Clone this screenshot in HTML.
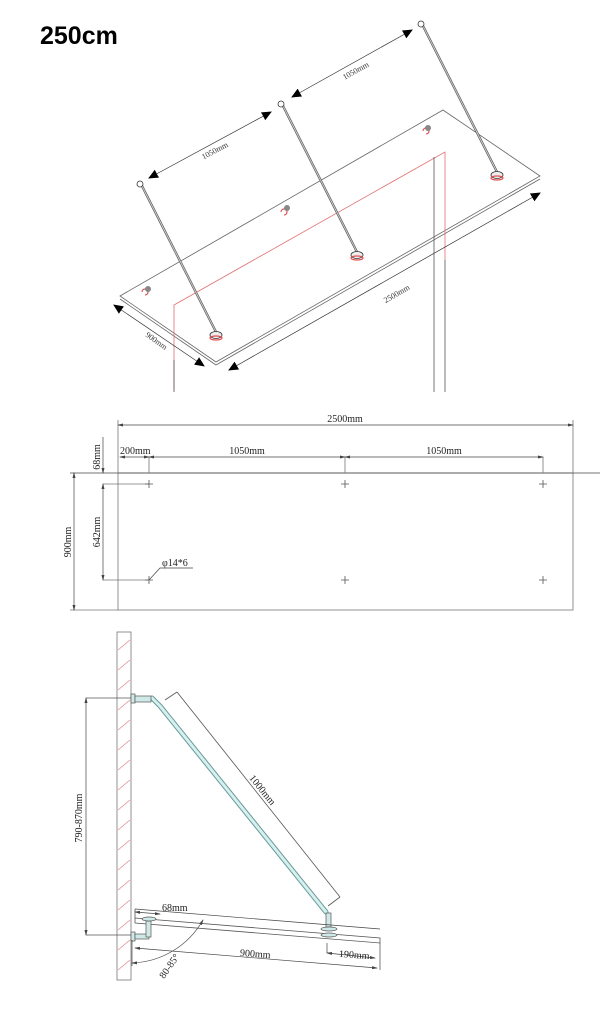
<!DOCTYPE html>
<html><head><meta charset="utf-8"><style>
html,body{margin:0;padding:0;background:#fff;}
svg{display:block;font-family:"Liberation Serif",serif;}
</style></head><body>
<svg width="611" height="1021" viewBox="0 0 611 1021" xmlns="http://www.w3.org/2000/svg">
<defs>
<marker id="a" markerWidth="10" markerHeight="10" refX="9" refY="5" orient="auto-start-reverse" markerUnits="userSpaceOnUse"><path d="M0,0.5 L10,5 L0,9.5 z" fill="#000"/></marker>
<marker id="s" markerWidth="6" markerHeight="6" refX="5" refY="3" orient="auto-start-reverse" markerUnits="userSpaceOnUse"><path d="M0,1.5 L6,3 L0,4.5 z" fill="#444"/></marker>
</defs>
<text x="40" y="44" font-family="Liberation Sans,sans-serif" font-weight="bold" font-size="25">250cm</text>

<g stroke="#666" fill="none" stroke-width="0.8">
<path d="M120,296 L443,110 L540,176 L216,362 Z"/>
<path d="M120,299 L216,365 L540,179"/>
</g>
<path d="M174,390 L174,305 L445,152 L445,260" stroke="#e07070" fill="none" stroke-width="0.8"/>
<g stroke="#555" stroke-width="0.8">
<line x1="434" y1="157" x2="434" y2="392"/><line x1="445" y1="260" x2="445" y2="392"/>
<line x1="174" y1="360" x2="174" y2="392"/>
</g>
<g stroke="#666" stroke-width="2.4" fill="none">
<line x1="141" y1="184" x2="216" y2="332"/>
<line x1="282" y1="104" x2="357" y2="252"/>
<line x1="422" y1="24" x2="497" y2="172"/>
</g>
<g stroke="#ddd" stroke-width="0.8" fill="none">
<line x1="141" y1="184" x2="216" y2="332"/>
<line x1="282" y1="104" x2="357" y2="252"/>
<line x1="422" y1="24" x2="497" y2="172"/>
</g>
<g stroke="#333" fill="#fff" stroke-width="0.8">
<circle cx="140" cy="184" r="3"/><circle cx="281" cy="104" r="3"/><circle cx="421" cy="24" r="3"/>
<ellipse cx="216" cy="335" rx="6" ry="3.5" fill="#eee"/><ellipse cx="357" cy="255" rx="6" ry="3.5" fill="#eee"/><ellipse cx="497" cy="175" rx="6" ry="3.5" fill="#eee"/>
</g>
<g stroke="#e05050" fill="none" stroke-width="1.2">
<ellipse cx="216" cy="338" rx="6" ry="2"/><ellipse cx="357" cy="258" rx="6" ry="2"/><ellipse cx="497" cy="178" rx="6" ry="2"/>
<path d="M142,292 a3,3 0 1 1 3,3"/><path d="M281,212 a3,3 0 1 1 3,3"/><path d="M423,131 a3,3 0 1 1 3,3"/>
</g>
<g fill="#888"><circle cx="148" cy="289" r="3"/><circle cx="287" cy="208" r="3"/><circle cx="428" cy="128" r="3"/></g>
<g stroke="#333" stroke-width="0.7">
<line x1="149" y1="178" x2="271" y2="112" marker-start="url(#a)" marker-end="url(#a)"/>
<line x1="292" y1="97" x2="412" y2="30" marker-start="url(#a)" marker-end="url(#a)"/>
<line x1="229" y1="370" x2="540" y2="193" marker-start="url(#a)" marker-end="url(#a)"/>
<line x1="114" y1="305" x2="204" y2="366" marker-start="url(#a)" marker-end="url(#a)"/>
</g>
<g font-size="8" fill="#333">
<text transform="translate(216,153) rotate(-28)" text-anchor="middle">1050mm</text>
<text transform="translate(357,73) rotate(-29)" text-anchor="middle">1050mm</text>
<text transform="translate(398,296) rotate(-30)" text-anchor="middle">2500mm</text>
<text transform="translate(155,343) rotate(35)" text-anchor="middle">900mm</text>
</g>

<g stroke="#777" fill="none" stroke-width="0.8">
<rect x="118" y="473" width="455" height="137"/>
<line x1="70" y1="473" x2="600" y2="473" stroke="#444"/>
<line x1="118" y1="420" x2="118" y2="473"/><line x1="573" y1="420" x2="573" y2="473"/>
<line x1="149" y1="457" x2="149" y2="473"/><line x1="345" y1="457" x2="345" y2="473"/><line x1="543" y1="457" x2="543" y2="473"/>
<line x1="103" y1="484" x2="149" y2="484"/><line x1="103" y1="580" x2="149" y2="580"/>
<line x1="70" y1="610" x2="118" y2="610"/>
</g>
<g stroke="#444" stroke-width="0.7">
<line x1="118" y1="425" x2="573" y2="425" marker-start="url(#s)" marker-end="url(#s)"/>
<line x1="120" y1="457" x2="149" y2="457" marker-start="url(#s)" marker-end="url(#s)"/>
<line x1="149" y1="457" x2="345" y2="457" marker-start="url(#s)" marker-end="url(#s)"/>
<line x1="345" y1="457" x2="543" y2="457" marker-start="url(#s)" marker-end="url(#s)"/>
<line x1="103" y1="437" x2="103" y2="473" marker-end="url(#s)"/>
<line x1="103" y1="484" x2="103" y2="580" marker-start="url(#s)" marker-end="url(#s)"/>
<line x1="74" y1="473" x2="74" y2="610" marker-start="url(#s)" marker-end="url(#s)"/>
<polyline points="149,580 160,568 193,568" fill="none"/>
</g>
<g stroke="#555" stroke-width="0.8">
<path d="M145,484h8M149,480v8M341,484h8M345,480v8M539,484h8M543,480v8M145,580h8M149,576v8M341,580h8M345,576v8M539,580h8M543,576v8"/>
</g>
<g font-size="10" fill="#222">
<text x="345" y="422" text-anchor="middle">2500mm</text>
<text x="120" y="454">200mm</text>
<text x="247" y="454" text-anchor="middle">1050mm</text>
<text x="444" y="454" text-anchor="middle">1050mm</text>
<text transform="translate(100,457) rotate(-90)" text-anchor="middle">68mm</text>
<text transform="translate(100,532) rotate(-90)" text-anchor="middle">642mm</text>
<text transform="translate(71,542) rotate(-90)" text-anchor="middle">900mm</text>
<text x="162" y="566">φ14*6</text>
</g>

<rect x="117" y="632" width="14" height="348" fill="#fff" stroke="#777" stroke-width="0.8"/>
<g stroke="#e09090" stroke-width="0.8">
<path d="M118,650 l12,-10 M118,670 l12,-10 M118,690 l12,-10 M118,710 l12,-10 M118,730 l12,-10 M118,750 l12,-10 M118,770 l12,-10 M118,790 l12,-10 M118,810 l12,-10 M118,830 l12,-10 M118,850 l12,-10 M118,870 l12,-10 M118,890 l12,-10 M118,910 l12,-10 M118,930 l12,-10 M118,950 l12,-10 M118,970 l12,-10"/>
</g>
<g stroke="#555" fill="none" stroke-width="0.8">
<line x1="86" y1="698" x2="131" y2="698"/><line x1="86" y1="935" x2="131" y2="935"/>
<path d="M135,918 L380,938 L380,943 L135,923 Z" fill="#fff"/>
<line x1="135" y1="909" x2="135" y2="918"/>
<line x1="177" y1="692" x2="340" y2="897"/>
<line x1="165" y1="700" x2="177" y2="692"/><line x1="328" y1="906" x2="340" y2="897"/>
</g>
<path d="M152,698 L160,706 L326,912" stroke="#6a9a9a" stroke-width="5" stroke-linecap="round" stroke-linejoin="round" fill="none"/>
<path d="M152,698 L160,706 L326,912" stroke="#d6f0ef" stroke-width="3" stroke-linecap="round" stroke-linejoin="round" fill="none"/>
<g stroke="#555" fill="#cfe9e8" stroke-width="0.7">
<rect x="131" y="694" width="4" height="9"/><rect x="135" y="696" width="16" height="6"/>
<rect x="131" y="932" width="4" height="9"/><rect x="135" y="934" width="14" height="5"/><rect x="146" y="921" width="5" height="16"/>
<ellipse cx="149" cy="919" rx="7" ry="2"/>
<rect x="326" y="913" width="5" height="14"/>
<ellipse cx="329" cy="929" rx="8" ry="2"/><ellipse cx="329" cy="935" rx="8" ry="2"/>
</g>
<g stroke="#444" stroke-width="0.7" fill="none">
<line x1="86" y1="698" x2="86" y2="935" marker-start="url(#s)" marker-end="url(#s)"/>
<line x1="135" y1="909" x2="380" y2="929"/>
<line x1="135" y1="912" x2="160" y2="914" marker-start="url(#s)" marker-end="url(#s)"/>
<line x1="135" y1="948" x2="377" y2="968" marker-start="url(#s)" marker-end="url(#s)"/>
<line x1="327" y1="953" x2="375" y2="958" marker-start="url(#s)" marker-end="url(#s)"/>
<line x1="327" y1="943" x2="327" y2="953"/><line x1="380" y1="943" x2="380" y2="970"/>
<line x1="132" y1="940" x2="132" y2="966"/>
<path d="M132,963 A85,85 0 0 0 203,920" marker-start="url(#s)" marker-end="url(#s)"/>
</g>
<g font-size="10" fill="#222">
<text transform="translate(82,818) rotate(-90)" text-anchor="middle">790-870mm</text>
<text transform="translate(260,792) rotate(51)" text-anchor="middle">1000mm</text>
<text x="162" y="911">68mm</text>
<text transform="translate(255,957) rotate(4.5)" text-anchor="middle">900mm</text>
<text transform="translate(354,958) rotate(4)" text-anchor="middle">190mm</text>
<text transform="translate(172,968) rotate(-55)" text-anchor="middle">80-85°</text>
</g>
</svg>
</body></html>
